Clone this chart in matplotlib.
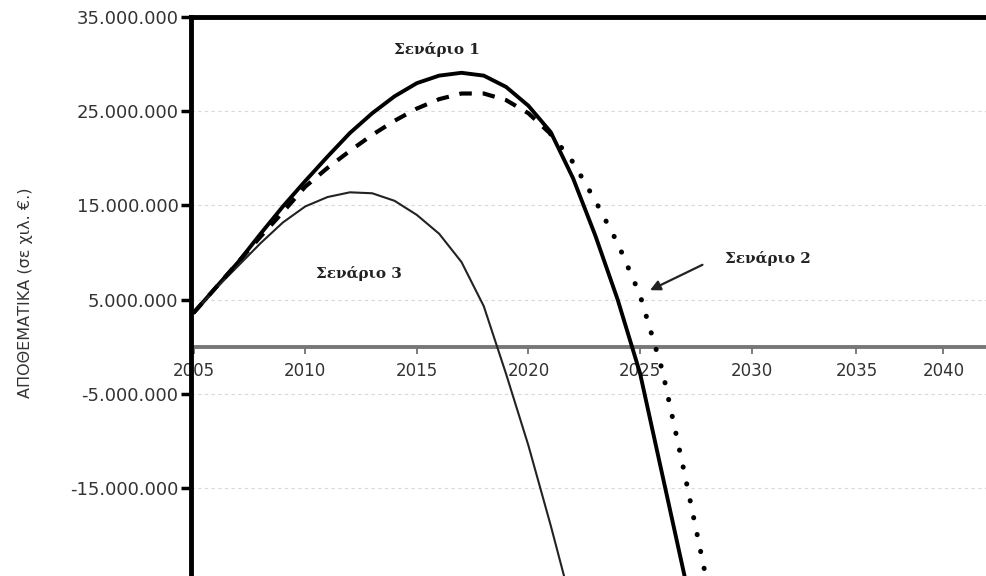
import numpy as np
import matplotlib.pyplot as plt

# Έτη και αποθεματικά (εκατ. €) ανά σενάριο, όπως διαβάζονται από το διάγραμμα
years = list(range(2005, 2029))

senario_1 = [3.6, 6.3, 9.0, 12.0, 14.9, 17.6, 20.2, 22.7, 24.8, 26.6, 28.0, 28.8,
             29.1, 28.8, 27.6, 25.6, 22.8, 17.9, 11.8, 5.0, -2.8, -13.6, -24.4, -35.2]
senario_2 = [3.6, 6.3, 9.0, 11.7, 14.3, 17.0, 19.0, 20.8, 22.5, 24.0, 25.3, 26.3,
             26.9, 26.9, 26.2, 24.8, 22.6, 19.6, 15.5, 11.0, 5.5, -2.5, -13.5, -25.0]
senario_3 = [3.6, 6.2, 8.6, 11.0, 13.2, 14.9, 15.9, 16.4, 16.3, 15.5, 14.0, 12.0,
             9.0, 4.3, -2.9, -10.5, -19.0, -28.0]

y_ticks = [35, 25, 15, 5, -5, -15, -25]
x_ticks = [2005, 2010, 2015, 2020, 2025, 2030, 2035, 2040]

# ο οριζόντιος άξονας του πρωτοτύπου στενεύει μετά το 2030
scale_in = [1990, 2030, 2035, 2040, 2060]
scale_out = [1990, 2030, 2034.7, 2038.6, 2054.2]


def fwd(x):
    return np.interp(x, scale_in, scale_out)


def inv(x):
    return np.interp(x, scale_out, scale_in)


def fmt(v):
    s = f"{abs(v) * 1000000:,.0f}".replace(",", ".")
    return ("-" if v < 0 else "") + s


fig = plt.figure(figsize=(9.87, 5.76), dpi=100)
# ο άξονας ξεπερνά το κάτω και το δεξί όριο της εικόνας, όπως στο πρωτότυπο
ax = fig.add_axes([0.1935, -0.092, 0.84, 1.062])
ax.set_xscale("function", functions=(fwd, inv))

ax.plot(years, senario_1, color="black", lw=2.8, solid_capstyle="round", zorder=4)
ax.plot(years[:len(senario_3)], senario_3, color="#222222", lw=1.5, zorder=4)
# σενάριο 2: διακεκομμένη μέχρι το 2021, μετά με τελείες
k = years.index(2021)
ax.plot(years[:k + 1], senario_2[:k + 1], color="black", lw=3.0,
        linestyle=(0, (3.0, 2.6)), dash_capstyle="butt", zorder=4)
ax.plot(years[k:], senario_2[k:], color="black", lw=3.6,
        linestyle=(0, (0.05, 3.4)), dash_capstyle="round", zorder=4)

ax.set_xlim(2004.88, 2044.4)
ax.set_ylim(-30, 35)

ax.set_yticks(y_ticks)
ax.set_yticklabels([fmt(v) for v in y_ticks])
ax.set_xticks(x_ticks)
ax.set_xticklabels([str(v) for v in x_ticks])
ax.minorticks_off()

for v in y_ticks:
    ax.axhline(v, color="#d8d8d8", lw=0.8, linestyle=(0, (3, 3)), zorder=1)

ax.spines["right"].set_visible(False)
ax.spines["top"].set_linewidth(3.5)
ax.spines["left"].set_linewidth(3.5)
ax.spines["left"].set_zorder(5)
ax.spines["bottom"].set_position(("data", 0))
ax.spines["bottom"].set_color("#777777")
ax.spines["bottom"].set_linewidth(2.8)
ax.xaxis.set_zorder(2)

ax.tick_params(axis="y", direction="out", length=7, width=2.5, color="black",
               labelsize=13, labelcolor="#333333", pad=2)
ax.tick_params(axis="x", direction="out", length=5, width=1.2, color="#666666",
               labelsize=12, labelcolor="#333333", pad=6)

ax.set_ylabel("ΑΠΟΘΕΜΑΤΙΚΑ (σε χιλ. €.)", fontsize=11.5, color="#333333")
ax.yaxis.set_label_coords(-0.19, 0.55)

lbl = dict(fontsize=11, fontweight="bold", family="DejaVu Serif",
           ha="center", va="center", color="#222222")
ax.text(2015.9, 31.6, "Σενάριο 1", **lbl)
ax.text(2012.4, 7.8, "Σενάριο 3", **lbl)
ax.text(2030.8, 9.4, "Σενάριο 2", **lbl)
ax.annotate("", xy=(2025.45, 6.0), xytext=(2027.8, 8.7),
            arrowprops=dict(arrowstyle="-|>", color="#222222", lw=1.6,
                            shrinkA=0, shrinkB=0, mutation_scale=15))

fig.savefig("out.png", dpi=100)
